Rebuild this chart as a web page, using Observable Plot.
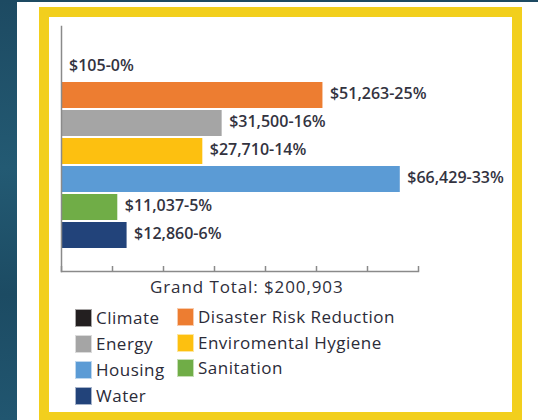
<!DOCTYPE html>
<html>
<head>
<meta charset="utf-8">
<script src="https://cdn.jsdelivr.net/npm/d3@7"></script>
<script src="https://cdn.jsdelivr.net/npm/@observablehq/plot@0.6"></script>
<style>
  html, body { margin: 0; padding: 0; }
  body { width: 538px; height: 420px; position: relative; overflow: hidden; background: #ffffff; font-family: "Open Sans", sans-serif; }
  #leftstrip { position: absolute; left: 0; top: 0; width: 17px; height: 420px; background: linear-gradient(180deg, #1d4a62, #235a73 40%, #1c4b63 70%, #215670); }
  #topstrip { position: absolute; left: 0; top: 0; width: 538px; height: 2px; background: #1d4a62; }
  #frame { position: absolute; left: 39px; top: 7px; width: 463px; height: 395px; border: 10px solid #f2cf1d; box-sizing: content-box; background: #fff; }
  #chart { position: absolute; left: 0; top: 0; }
  #total { position: absolute; left: 150px; top: 275px; font-size: 17px; letter-spacing: 0.9px; font-weight: 500; color: #2e2e3a; white-space: nowrap; }
  #legend { position: absolute; left: 75px; top: 306px; }
  .item { position: absolute; display: flex; align-items: center; font-size: 17px; letter-spacing: 0.5px; font-weight: 500; color: #2b2b38; white-space: nowrap; }
  .sw { width: 17px; height: 18px; margin-right: 4px; box-sizing: border-box; border: 1px solid rgba(255,255,255,0.6); }
</style>
</head>
<body>
<div id="leftstrip"></div>
<div id="topstrip"></div>
<div id="frame"></div>
<div id="chart"></div>
<div id="total"></div>
<div id="legend"></div>
<script>
const categories = ["Climate", "Disaster Risk Reduction", "Energy", "Enviromental Hygiene", "Housing", "Sanitation", "Water"];
const values = [105, 51263, 31500, 27710, 66429, 11037, 12860];
const percents = [0, 25, 16, 14, 33, 5, 6];
const colors = ["#231f20", "#ed7d31", "#a5a5a5", "#fdc010", "#5b9bd5", "#70ad47", "#22437a"];
const xTicks = [0, 10000, 20000, 30000, 40000, 50000, 60000, 70000];
const grandTotal = 200903;

const legendCol1 = ["Climate", "Energy", "Housing", "Water"];
const legendCol2 = ["Disaster Risk Reduction", "Enviromental Hygiene", "Sanitation"];

const data = categories.map((c, i) => ({category: c, value: values[i], pct: percents[i]}));
const fmt = d3.format(",");

const chart = Plot.plot({
  width: 538,
  height: 280,
  marginLeft: 61,
  marginRight: 120,
  marginTop: 26,
  marginBottom: 9,
  style: {background: "transparent", fontFamily: "Open Sans, sans-serif", overflow: "visible"},
  x: {domain: [0, 70000], axis: null},
  y: {domain: categories, axis: null, insetTop: 25, insetBottom: 20, paddingInner: 0.06, paddingOuter: 0.03},
  color: {domain: categories, range: colors},
  marks: [
    Plot.barX(data, {x: "value", y: "category", fill: "category"}),
    Plot.text(data, {
      x: "value", y: "category",
      text: d => `$${fmt(d.value)}-${d.pct}%`,
      textAnchor: "start", dx: 7, dy: -2,
      fontSize: 16, fontWeight: 600, fill: "#33333f",
      letterSpacing: "0.4px"
    }),
    Plot.frame({anchor: "left", stroke: "#8a8a8a", strokeWidth: 1.5}),
    Plot.frame({anchor: "bottom", stroke: "#8a8a8a", strokeWidth: 1.5}),
    Plot.axisX({ticks: xTicks, tickSize: -5, tickFormat: () => "", label: null, stroke: "#8a8a8a", strokeWidth: 1.5})
  ]
});
document.getElementById("chart").appendChild(chart);

document.getElementById("total").textContent = `Grand Total: $${fmt(grandTotal)}`;

const legend = document.getElementById("legend");
const colorOf = c => colors[categories.indexOf(c)];
legendCol1.forEach((c, i) => {
  const el = document.createElement("div");
  el.className = "item";
  el.style.left = "0px";
  el.style.top = (i * 26) + "px";
  el.innerHTML = `<span class="sw" style="background:${colorOf(c)}"></span><span>${c}</span>`;
  legend.appendChild(el);
});
legendCol2.forEach((c, i) => {
  const el = document.createElement("div");
  el.className = "item";
  el.style.left = "102px";
  el.style.top = (i * 26 - (i === 2 ? 2 : 1)) + "px";
  el.innerHTML = `<span class="sw" style="background:${colorOf(c)}"></span><span>${c}</span>`;
  legend.appendChild(el);
});
</script>
</body>
</html>
